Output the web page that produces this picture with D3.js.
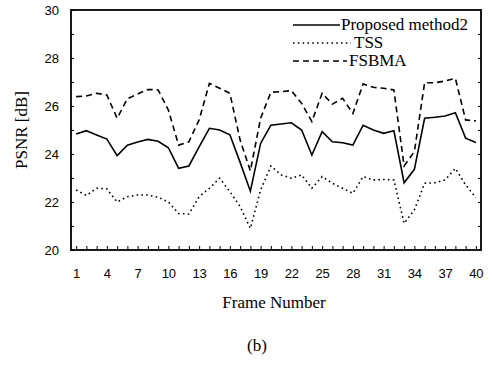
<!DOCTYPE html>
<html><head><meta charset="utf-8">
<script src="https://cdn.jsdelivr.net/npm/d3@7"></script>
<style>body{margin:0;background:#fff}svg{display:block}</style>
</head><body>
<script>
const frames = d3.range(1, 41);
const proposed = [24.83,24.97,24.79,24.62,23.93,24.37,24.5,24.61,24.53,24.26,23.4,23.5,24.3,25.07,25.0,24.8,23.65,22.45,24.44,25.2,
  25.25,25.3,25.0,23.96,24.93,24.51,24.47,24.37,25.2,25.0,24.86,24.97,22.8,23.36,25.49,25.53,25.58,25.72,24.66,24.48];
const tss = [22.5,22.27,22.57,22.55,22.0,22.22,22.29,22.29,22.2,22.0,21.52,21.5,22.22,22.57,22.99,22.43,21.81,20.9,22.5,23.5,
  23.13,22.99,23.13,22.57,23.06,22.78,22.57,22.36,23.06,22.92,22.94,22.92,21.11,21.67,22.78,22.8,22.92,23.4,22.71,22.18];
const fsbma = [26.39,26.42,26.53,26.46,25.49,26.3,26.5,26.69,26.67,25.83,24.37,24.51,25.42,26.94,26.74,26.53,24.58,23.3,25.49,26.57,
  26.6,26.64,26.11,25.35,26.53,26.08,26.32,25.69,26.92,26.78,26.74,26.67,23.5,24.1,26.97,26.97,27.04,27.15,25.42,25.38];
const xTickLabels = [1,4,7,10,13,16,19,22,25,28,31,34,37,40];
const yTickLabels = [20,22,24,26,28,30];
const seriesNames = ["Proposed method2","TSS","FSBMA"];

const W = 492, H = 370;
const L = 71, R = 481, T = 10, B = 250;
const svg = d3.select("body").append("svg").attr("width", W).attr("height", H);
const x = d3.scaleLinear().domain([0.5, 40.5]).range([L, R]);
const y = d3.scaleLinear().domain([20, 30]).range([B, T]);

const styles = [
  {data: proposed, dash: null, w: 1.6},
  {data: tss, dash: "1.6,3.2", w: 1.6},
  {data: fsbma, dash: "6,4", w: 1.6}
];
const line = d3.line().x((d,i)=>x(frames[i])).y(d=>y(d));
styles.forEach(s=>{
  svg.append("path").datum(s.data).attr("d", line).attr("fill","none")
    .attr("stroke","#000").attr("stroke-width", s.w)
    .attr("stroke-dasharray", s.dash);
});

// frame
svg.append("rect").attr("x",L).attr("y",T).attr("width",R-L).attr("height",B-T)
  .attr("fill","none").attr("stroke","#000").attr("stroke-width",1.8);

// x axis ticks (inward) and labels
const xAxis = d3.axisBottom(x).tickValues(frames).tickSize(-4).tickFormat(d=> xTickLabels.includes(d) ? d : "");
const gx = svg.append("g").attr("transform",`translate(0,${B})`).call(xAxis);
gx.select(".domain").remove();
gx.selectAll("line").attr("stroke","#000").attr("stroke-width",1);
gx.selectAll("text").attr("dy", null).attr("y", 28).attr("font-family","Liberation Sans, Arial, sans-serif")
  .attr("font-size", 13).attr("fill","#000");

// y axis
const yAxis = d3.axisLeft(y).tickValues(d3.range(20,31,1)).tickSize(-3).tickPadding(12)
  .tickFormat(d=> yTickLabels.includes(d) ? d : "");
const gy = svg.append("g").attr("transform",`translate(${L},0)`).call(yAxis);
gy.select(".domain").remove();
gy.selectAll("line").attr("stroke","#000");
gy.selectAll("text").attr("font-family","Liberation Sans, Arial, sans-serif").attr("font-size",13).attr("fill","#000");
const gy2 = svg.append("g").attr("transform",`translate(${R},0)`).call(d3.axisRight(y).tickValues(d3.range(21,30,1)).tickSize(-3).tickFormat(""));
gy2.select(".domain").remove();
gy2.selectAll("line").attr("stroke","#000");

// legend
const leg = [
  {name: seriesNames[0], dash: null, x2: 340, tx: 341, yy: 25},
  {name: seriesNames[1], dash: "1.6,3.2", x2: 351, tx: 354, yy: 43},
  {name: seriesNames[2], dash: "6,4", x2: 347, tx: 349, yy: 61}
];
leg.forEach(l=>{
  svg.append("line").attr("x1",293).attr("x2",l.x2).attr("y1",l.yy).attr("y2",l.yy)
    .attr("stroke","#000").attr("stroke-width",1.6).attr("stroke-dasharray",l.dash);
  svg.append("text").attr("x",l.tx).attr("y",l.yy+5).text(l.name)
    .attr("font-family","Liberation Serif, Times New Roman, serif").attr("font-size",17).attr("fill","#000");
});

// titles
svg.append("text").attr("x",274).attr("y",308).attr("text-anchor","middle").text("Frame Number")
  .attr("font-family","Liberation Serif, Times New Roman, serif").attr("font-size",17).attr("fill","#000");
svg.append("text").attr("transform","translate(27,130) rotate(-90)").attr("text-anchor","middle").text("PSNR [dB]")
  .attr("font-family","Liberation Serif, Times New Roman, serif").attr("font-size",17).attr("fill","#000");
svg.append("text").attr("x",257).attr("y",351).attr("text-anchor","middle").text("(b)")
  .attr("font-family","Liberation Serif, Times New Roman, serif").attr("font-size",17).attr("fill","#000");
</script>
</body></html>
